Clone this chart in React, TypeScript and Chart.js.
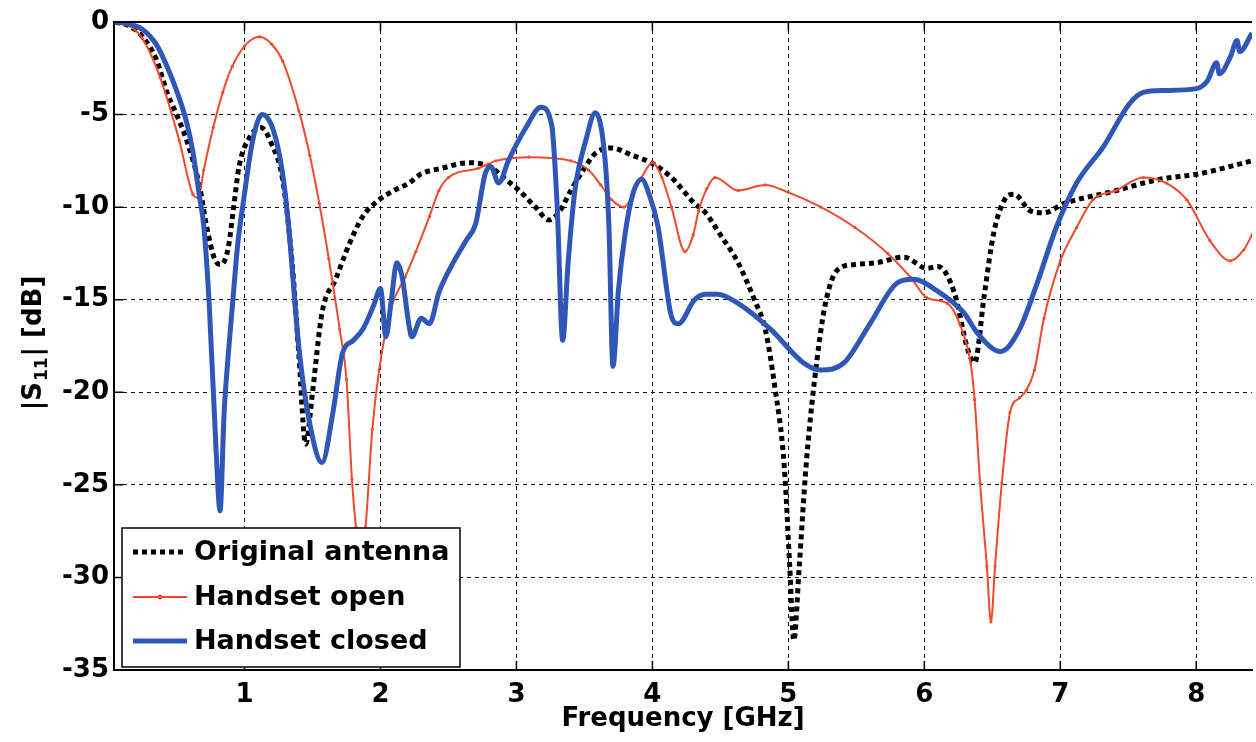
import React, { useEffect, useRef } from 'react';
import { Chart, registerables } from 'chart.js';

Chart.register(...registerables);

// ---------- data (frequency in GHz, |S11| in dB) ----------
const origFreq = [0.05, 0.15, 0.25, 0.35, 0.43, 0.5, 0.575, 0.67, 0.72, 0.78, 0.83, 0.88, 0.92, 0.96, 1.04, 1.12, 1.2, 1.28, 1.35, 1.4, 1.45, 1.5, 1.57, 1.67, 1.77, 1.87, 1.99, 2.1, 2.21, 2.3, 2.45, 2.65, 2.8, 2.92, 3.02, 3.14, 3.24, 3.32, 3.4, 3.5, 3.58, 3.7, 3.85, 3.99, 4.14, 4.31, 4.39, 4.5, 4.63, 4.75, 4.83, 4.9, 4.97, 5.01, 5.04, 5.08, 5.13, 5.19, 5.27, 5.36, 5.49, 5.65, 5.85, 6.02, 6.1, 6.22, 6.32, 6.37, 6.44, 6.51, 6.59, 6.66, 6.78, 6.88, 7.03, 7.36, 7.73, 8.02, 8.41];
const origS11 = [0, -0.2, -0.8, -2.0, -3.8, -5.0, -6.4, -8.9, -11.0, -12.8, -13.1, -12.2, -10.0, -7.8, -6.2, -5.7, -6.6, -8.5, -13.0, -18.0, -22.8, -20.0, -15.7, -13.9, -12.0, -10.5, -9.6, -9.1, -8.7, -8.2, -7.9, -7.6, -7.8, -8.5, -9.1, -10.0, -10.7, -10.2, -9.1, -7.9, -7.1, -6.8, -7.2, -7.6, -8.4, -9.8, -10.3, -11.5, -13.0, -15.0, -16.6, -19.7, -24.0, -29.4, -33.4, -29.4, -24.0, -19.5, -15.3, -13.4, -13.1, -13.0, -12.7, -13.3, -13.2, -14.6, -17.7, -18.4, -14.8, -11.4, -9.6, -9.3, -10.2, -10.3, -9.8, -9.2, -8.5, -8.2, -7.5];

const openFreq = [0.05, 0.15, 0.25, 0.38, 0.52, 0.62, 0.66, 0.7, 0.77, 0.84, 0.91, 1.0, 1.11, 1.2, 1.28, 1.4, 1.48, 1.55, 1.62, 1.7, 1.75, 1.79, 1.82, 1.855, 1.89, 1.94, 1.99, 2.08, 2.18, 2.26, 2.36, 2.43, 2.5, 2.72, 2.85, 3.09, 3.4, 3.53, 3.62, 3.7, 3.79, 3.86, 3.92, 4.0, 4.07, 4.14, 4.24, 4.3, 4.34, 4.4, 4.46, 4.63, 4.83, 5.0, 5.24, 5.49, 5.73, 5.9, 6.02, 6.17, 6.26, 6.34, 6.37, 6.41, 6.46, 6.49, 6.52, 6.57, 6.63, 6.7, 6.75, 6.81, 6.88, 7.0, 7.12, 7.24, 7.41, 7.61, 7.78, 7.93, 8.1, 8.25, 8.35, 8.41];
const openS11 = [0, -0.2, -0.9, -3.0, -6.4, -9.3, -9.5, -8.0, -5.7, -3.8, -2.4, -1.3, -0.8, -1.2, -2.1, -4.8, -7.2, -9.8, -12.8, -16.6, -19.3, -24.7, -27.3, -29.0, -27.3, -22.0, -18.8, -15.4, -13.8, -12.4, -10.5, -9.1, -8.4, -7.9, -7.5, -7.3, -7.5, -8.0, -8.8, -9.6, -10.0, -9.3, -8.4, -7.6, -8.4, -10.0, -12.4, -11.5, -10.2, -9.0, -8.4, -9.1, -8.8, -9.2, -10.0, -11.1, -12.5, -13.8, -14.9, -15.2, -16.3, -18.4, -20.4, -24.9, -29.4, -32.4, -29.4, -24.9, -21.1, -20.3, -19.9, -18.8, -16.0, -12.9, -11.1, -9.6, -9.1, -8.4, -8.7, -9.6, -11.8, -12.9, -12.3, -11.5];

const closedFreq = [0.05, 0.15, 0.25, 0.35, 0.43, 0.5, 0.57, 0.62, 0.67, 0.7, 0.74, 0.79, 0.82, 0.85, 0.88, 0.91, 0.95, 0.99, 1.06, 1.13, 1.2, 1.26, 1.3, 1.33, 1.4, 1.48, 1.57, 1.65, 1.72, 1.8, 1.87, 1.95, 2.0, 2.04, 2.08, 2.12, 2.16, 2.21, 2.23, 2.3, 2.36, 2.43, 2.52, 2.63, 2.7, 2.77, 2.81, 2.87, 2.94, 3.07, 3.18, 3.26, 3.3, 3.34, 3.38, 3.43, 3.51, 3.58, 3.65, 3.68, 3.71, 3.75, 3.8, 3.86, 3.92, 3.98, 4.04, 4.14, 4.19, 4.31, 4.39, 4.48, 4.63, 4.87, 5.11, 5.24, 5.41, 5.6, 5.8, 5.92, 6.09, 6.29, 6.39, 6.56, 6.7, 6.83, 6.97, 7.12, 7.32, 7.51, 7.61, 7.76, 8.0, 8.08, 8.15, 8.17, 8.25, 8.3, 8.32, 8.41];
const closedS11 = [0, -0.1, -0.4, -1.2, -2.4, -3.7, -5.3, -7.0, -9.5, -11.0, -15.2, -23.0, -26.4, -21.1, -18.0, -15.4, -12.0, -9.8, -6.4, -5.0, -5.6, -7.3, -9.3, -11.5, -17.6, -21.7, -23.8, -21.1, -17.9, -17.2, -16.6, -15.3, -14.4, -17.0, -15.0, -13.0, -13.8, -16.4, -17.0, -16.0, -16.3, -14.6, -13.2, -11.8, -10.9, -8.2, -7.8, -8.7, -7.5, -5.7, -4.6, -5.6, -10.0, -17.2, -13.0, -9.1, -6.4, -4.9, -7.3, -11.0, -18.6, -14.5, -11.4, -9.2, -8.5, -9.4, -11.0, -15.9, -16.3, -15.0, -14.7, -14.7, -15.2, -16.6, -18.4, -18.8, -18.4, -16.3, -14.1, -13.9, -14.5, -15.7, -16.8, -17.8, -16.6, -14.1, -11.1, -8.7, -6.7, -4.4, -3.8, -3.7, -3.6, -3.2, -2.2, -2.8, -1.9, -1.0, -1.6, -0.6];

const seriesLabels = ['Original antenna', 'Handset open', 'Handset closed'];
const xTickValues = [1, 2, 3, 4, 5, 6, 7, 8];
const yTickValues = [0, -5, -10, -15, -20, -25, -30, -35];
const xTitle = 'Frequency [GHz]';
const yTitleParts = ['|S', '11', '| [dB]'];

// ---------- styles ----------
const FONT = '"DejaVu Sans", "Liberation Sans", sans-serif';
const BLACK = '#000000';
const RED = '#ef4a2b';
const BLUE = '#2f57b8';

const toPoints = (xs: number[], ys: number[]) => xs.map((x, i) => ({ x, y: ys[i] }));

const decorPlugin = {
  id: 'decor',
  afterDraw(chart: any) {
    const { ctx, chartArea } = chart;
    const { left, right, top, bottom } = chartArea;
    const xs = chart.scales.x;
    const ys = chart.scales.y;
    ctx.save();
    // solid top border
    ctx.strokeStyle = '#000';
    ctx.lineWidth = 2;
    ctx.setLineDash([]);
    ctx.beginPath();
    ctx.moveTo(left, top);
    ctx.lineTo(right, top);
    ctx.stroke();
    // inward tick marks
    ctx.lineWidth = 1.5;
    ctx.beginPath();
    xTickValues.forEach((v) => {
      const px = xs.getPixelForValue(v);
      ctx.moveTo(px, bottom);
      ctx.lineTo(px, bottom - 9);
      ctx.moveTo(px, top);
      ctx.lineTo(px, top + 9);
    });
    yTickValues.forEach((v) => {
      const py = ys.getPixelForValue(v);
      ctx.moveTo(left, py);
      ctx.lineTo(left + 9, py);
    });
    ctx.stroke();

    // x title
    ctx.fillStyle = '#000';
    ctx.font = `bold 26px ${FONT}`;
    ctx.textAlign = 'center';
    ctx.textBaseline = 'alphabetic';
    ctx.fillText(xTitle, (left + right) / 2, 726);

    // y title with subscript
    ctx.save();
    ctx.translate(41, 343);
    ctx.rotate(-Math.PI / 2);
    const mainFont = `bold 26px ${FONT}`;
    const subFont = `bold 17px ${FONT}`;
    ctx.font = mainFont;
    const w0 = ctx.measureText(yTitleParts[0]).width;
    const w2 = ctx.measureText(yTitleParts[2]).width;
    ctx.font = subFont;
    const w1 = ctx.measureText(yTitleParts[1]).width;
    const total = w0 + w1 + w2 + 2;
    let cx = -total / 2;
    ctx.textAlign = 'left';
    ctx.font = mainFont;
    ctx.fillText(yTitleParts[0], cx, 0);
    cx += w0 + 1;
    ctx.font = subFont;
    ctx.fillText(yTitleParts[1], cx, 6);
    cx += w1 + 1;
    ctx.font = mainFont;
    ctx.fillText(yTitleParts[2], cx, 0);
    ctx.restore();

    // legend box
    const bx = 122, by = 528, bw = 338, bh = 139;
    ctx.fillStyle = '#ffffff';
    ctx.fillRect(bx, by, bw, bh);
    ctx.strokeStyle = '#000';
    ctx.lineWidth = 1.5;
    ctx.strokeRect(bx, by, bw, bh);
    const rows = [552, 597, 641];
    chart.data.datasets.forEach((ds: any, i: number) => {
      const y = rows[i];
      ctx.save();
      ctx.strokeStyle = ds.borderColor;
      ctx.lineWidth = ds.borderWidth;
      ctx.setLineDash(ds.borderDash || []);
      ctx.lineCap = 'butt';
      ctx.beginPath();
      ctx.moveTo(133, y);
      ctx.lineTo(i === 0 ? 183 : 187, y);
      ctx.stroke();
      if (ds.pointRadius > 0) {
        ctx.fillStyle = ds.borderColor;
        ctx.beginPath();
        ctx.arc(160, y, 2.5, 0, Math.PI * 2);
        ctx.fill();
      }
      ctx.restore();
      ctx.fillStyle = '#000';
      ctx.font = `bold 27px ${FONT}`;
      ctx.textAlign = 'left';
      ctx.textBaseline = 'middle';
      ctx.fillText(ds.label, 194, y + 1);
    });
    ctx.restore();
  },
};

export default function App() {
  const canvasRef = useRef<HTMLCanvasElement>(null);

  useEffect(() => {
    document.body.style.margin = '0';
    const canvas = canvasRef.current;
    if (!canvas) return;
    const chart = new Chart(canvas, {
      type: 'line',
      data: {
        datasets: [
          {
            label: seriesLabels[0],
            data: toPoints(origFreq, origS11),
            borderColor: BLACK,
            backgroundColor: BLACK,
            borderWidth: 5,
            borderDash: [5, 4],
            pointRadius: 0,
            cubicInterpolationMode: 'monotone',
            order: 3,
          },
          {
            label: seriesLabels[1],
            data: toPoints(openFreq, openS11),
            borderColor: RED,
            backgroundColor: RED,
            borderWidth: 2,
            pointRadius: 1.6,
            pointBorderWidth: 0,
            pointBackgroundColor: RED,
            cubicInterpolationMode: 'monotone',
            order: 2,
          },
          {
            label: seriesLabels[2],
            data: toPoints(closedFreq, closedS11),
            borderColor: BLUE,
            backgroundColor: BLUE,
            borderWidth: 5,
            pointRadius: 0,
            cubicInterpolationMode: 'monotone',
            order: 1,
          },
        ],
      } as any,
      options: {
        responsive: false,
        animation: false,
        devicePixelRatio: 1,
        layout: { padding: { top: 22, right: 0, left: 0, bottom: 0 } },
        plugins: {
          legend: { display: false },
          tooltip: { enabled: false },
          title: { display: false },
        },
        scales: {
          x: {
            type: 'linear',
            min: 0.04,
            max: 8.41,
            afterBuildTicks: (s: any) => {
              s.ticks = xTickValues.map((v) => ({ value: v }));
            },
            afterFit: (s: any) => {
              s.height = 72;
            },
            ticks: {
              color: '#000',
              font: { family: FONT, size: 26, weight: 'bold' },
              padding: 10,
              maxRotation: 0,
              autoSkip: false,
            },
            grid: { color: '#111', lineWidth: 1, drawTicks: false },
            border: { color: '#000', width: 2, dash: [4, 4] },
          },
          y: {
            type: 'linear',
            min: -35,
            max: 0,
            afterBuildTicks: (s: any) => {
              s.ticks = yTickValues.map((v) => ({ value: v }));
            },
            afterFit: (s: any) => {
              s.width = 114;
            },
            ticks: {
              color: '#000',
              font: { family: FONT, size: 26, weight: 'bold' },
              padding: 5,
              autoSkip: false,
            },
            grid: { color: '#111', lineWidth: 1, drawTicks: false },
            border: { color: '#000', width: 2, dash: [4, 4] },
          },
        },
      } as any,
      plugins: [decorPlugin],
    });
    return () => chart.destroy();
  }, []);

  return (
    <div style={{ position: 'absolute', left: 0, top: 0, width: 1256, height: 742, background: '#fff' }}>
      <canvas ref={canvasRef} width={1256} height={742} />
    </div>
  );
}
